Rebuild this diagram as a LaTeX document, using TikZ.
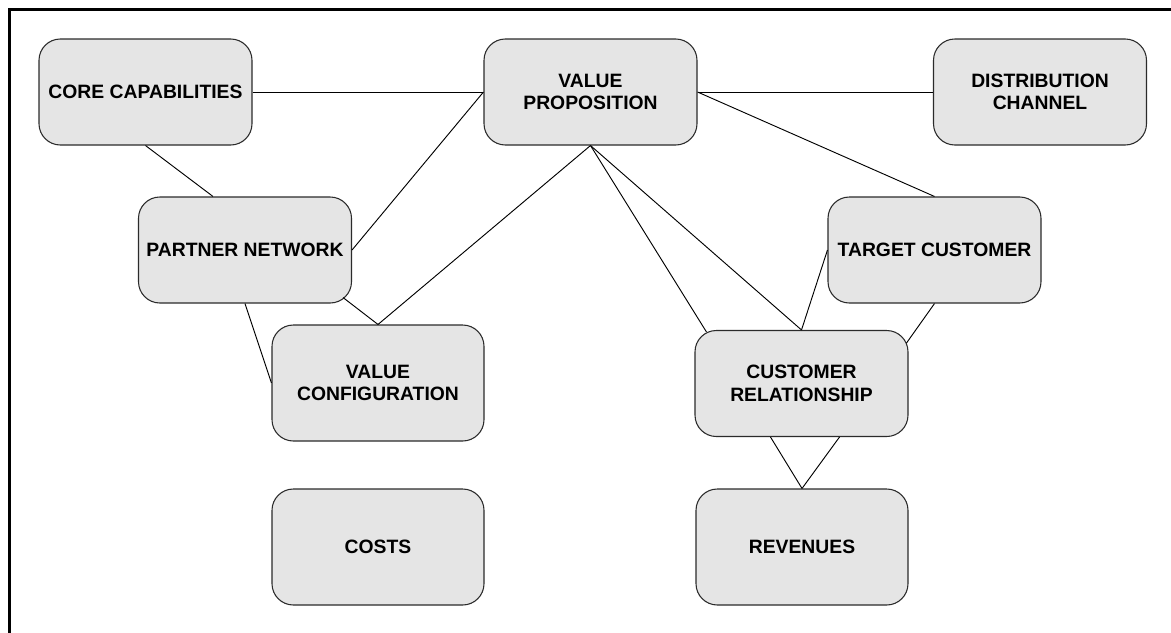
\documentclass[tikz,border=0pt]{standalone}
\usepackage{fontspec}
\setmainfont{Liberation Sans}
\usetikzlibrary{calc}
\definecolor{boxfill}{HTML}{E5E5E5}
\definecolor{boxline}{HTML}{2B2B2B}

\begin{document}
\begin{tikzpicture}[x=0.75pt,y=-0.75pt,
    block/.style={draw=boxline, fill=boxfill, line width=0.8pt, rounded corners=16pt,
                  minimum width=159.75pt, minimum height=79.5pt, align=center,
                  font=\fontsize{14.5}{17}\selectfont\bfseries},
    tallblock/.style={block, minimum width=159pt, minimum height=87pt},
    link/.style={draw=black, line width=0.7pt}]
  \useasboundingbox (0,0) rectangle (1171,632);
  \clip (0,0) rectangle (1171,632);
  % frame, open to the right and bottom
  \draw[line width=1.9pt] (9.5,9.5) rectangle (1300,800);

  % top row
  \node[block] (cc) at (145.5,92)  {CORE CAPABILITIES};
  \node[block] (vp) at (590.5,92)  {VALUE\\PROPOSITION};
  \node[block] (dc) at (1040,92)   {DISTRIBUTION\\CHANNEL};
  % middle rows
  \node[block] (pn) at (245,250)   {PARTNER NETWORK};
  \node[block] (tc) at (934.5,250) {TARGET CUSTOMER};
  \node[tallblock] (vc) at (378,383) {VALUE\\CONFIGURATION};
  \node[block] (cr) at (801.5,383.5) {CUSTOMER\\RELATIONSHIP};
  % bottom row
  \node[tallblock] (costs) at (378,547) {COSTS};
  \node[tallblock] (rev)   at (802,547) {REVENUES};

  % ports off the middle of a side
  \coordinate (pn-top)    at ($(pn.north)+(-32,0)$);
  \coordinate (pn-corner) at ($(pn.south east)+(-9,-6)$);
  \coordinate (cr-nw)     at ($(cr.north west)+(12,2)$);
  \coordinate (cr-ne)     at ($(cr.north east)+(-2,13)$);
  \coordinate (cr-bl)     at ($(cr.south)+(-31,0)$);
  \coordinate (cr-br)     at ($(cr.south)+(38,0)$);

  \foreach \a/\b in {cc.east/vp.west, vp.east/dc.west, cc.south/pn-top,
                     pn.east/vp.west, pn-corner/vc.north, pn.south/vc.west,
                     vp.south/vc.north, vp.south/cr-nw, vp.south/cr.north,
                     vp.east/tc.north, tc.west/cr.north, tc.south/cr-ne,
                     cr-bl/rev.north, cr-br/rev.north}
    \draw[link] (\a) -- (\b);
\end{tikzpicture}
\end{document}
